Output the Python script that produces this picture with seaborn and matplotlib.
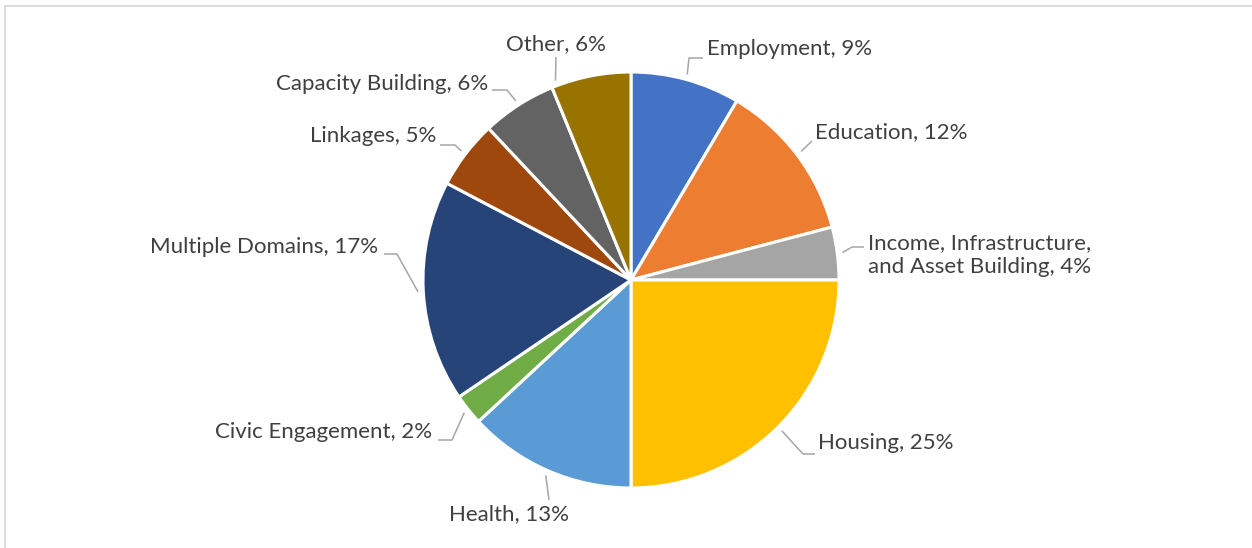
import matplotlib
matplotlib.use("Agg")
import matplotlib.pyplot as plt
import matplotlib.patches as mpatches
import numpy as np
import seaborn as sns

W, H = 1252, 548

categories = ["Employment", "Education", "Income, Infrastructure,\nand Asset Building",
              "Housing", "Health", "Civic Engagement", "Multiple Domains",
              "Linkages", "Capacity Building", "Other"]
shares = [8.5, 12.4, 4.1, 25.0, 13.1, 2.4, 17.2, 5.3, 5.8, 6.2]
pct_text = [9, 12, 4, 25, 13, 2, 17, 5, 6, 6]
colors = ["#4472C4", "#ED7D31", "#A5A5A5", "#FFC000", "#5B9BD5",
          "#70AD47", "#264478", "#9E480E", "#636363", "#997300"]

# label layout in pixel coords (y from top): text x, text y, align, leader bends, where on wedge the leader starts
layout = [
    (707, 49, "left", [(689, 58), (703, 58)], 0.5),
    (815, 132, "left", [(812, 141)], 0.5),
    (980, 255, "center", [(852, 247), (864, 247)], 0.5),
    (818, 443, "left", [(803, 454), (815, 454)], 0.5),
    (509, 514, "center", [(549, 500)], 0.5),
    (432, 432, "right", [(452, 440), (438, 440)], 0.5),
    (378, 247, "right", [(397, 254), (384, 254)], 0.5),
    (436, 136, "right", [(455, 145), (440, 145)], 0.5),
    (488, 84, "right", [(507, 90), (492, 90)], 0.5),
    (556, 44, "center", [(556, 57)], 0.93),
]

sns.set_style("white")
plt.rcParams["font.family"] = ["Lato", "DejaVu Sans"]

fig = plt.figure(figsize=(W / 100, H / 100), dpi=100)
ax = fig.add_axes([0, 0, 1, 1])

cx, cy, r = 631, H - 280, 208
wedges, _ = ax.pie(shares, colors=colors, startangle=90, counterclock=False,
                   center=(cx, cy), radius=r,
                   wedgeprops=dict(edgecolor="white", linewidth=2.2))

for i, w in enumerate(wedges):
    tx, ty, ha, bends, frac = layout[i]
    ang = np.deg2rad(w.theta1 + frac * (w.theta2 - w.theta1))
    sx = cx + r * 1.025 * np.cos(ang)
    sy = cy + r * 1.025 * np.sin(ang)
    xs = [sx] + [b[0] for b in bends]
    ys = [sy] + [H - b[1] for b in bends]
    ax.plot(xs, ys, color="#A6A6A6", lw=1.1, solid_capstyle="butt")
    ax.text(tx, H - ty, f"{categories[i]}, {pct_text[i]}%", ha=ha, va="center",
            fontsize=16, color="#404040", linespacing=1.3,
            multialignment="center")

# chart area border
ax.add_patch(mpatches.Rectangle((5, -20), W + 20, H - 6 + 20, fill=False,
                                edgecolor="#D9D9D9", lw=1.3))

ax.set_xlim(0, W)
ax.set_ylim(0, H)
ax.set_aspect("equal")
ax.axis("off")

fig.savefig("out.png", dpi=100, facecolor="white")
